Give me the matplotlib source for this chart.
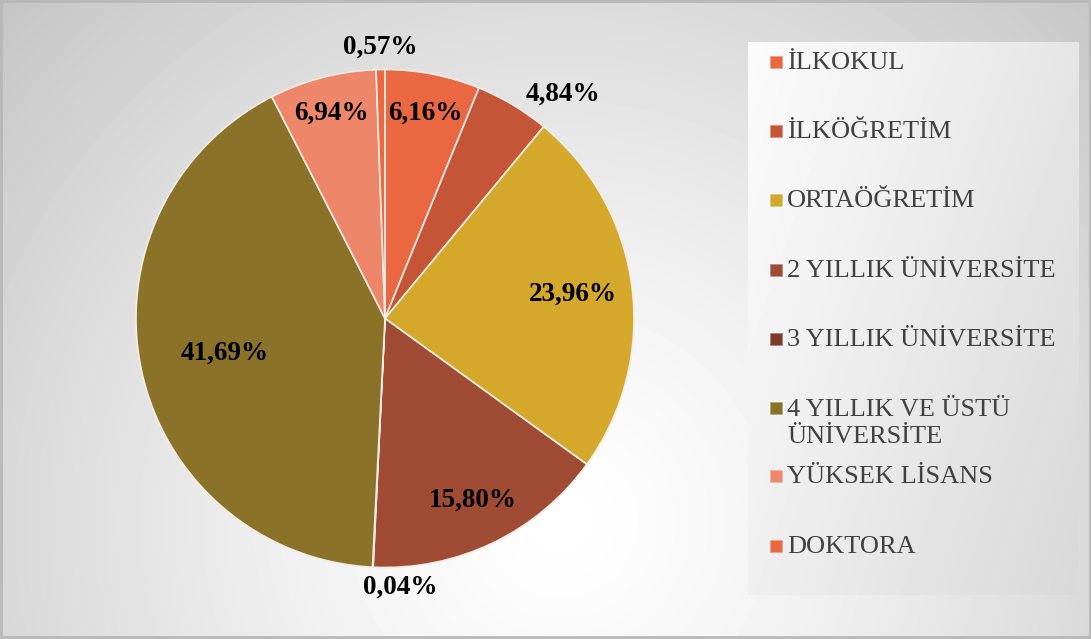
import numpy as np
import matplotlib
matplotlib.use("Agg")
import matplotlib.pyplot as plt
from matplotlib.patches import Rectangle

plt.rcParams['font.family'] = ['Liberation Serif', 'DejaVu Serif']

categories = ['İLKOKUL', 'İLKÖĞRETİM', 'ORTAÖĞRETİM', '2 YILLIK ÜNİVERSİTE',
              '3 YILLIK ÜNİVERSİTE', '4 YILLIK VE ÜSTÜ\nÜNİVERSİTE',
              'YÜKSEK LİSANS', 'DOKTORA']
shares = [6.16, 4.84, 23.96, 15.80, 0.04, 41.69, 6.94, 0.57]
colors = ['#E96841', '#C55537', '#D4A82A', '#A04B33',
          '#7F3B2A', '#8A7229', '#EE866A', '#EB6841']
# label placement: radius (in pie radii) and angle shift in degrees
label_r = [0.84, 1.15, 0.76, 0.81, 1.08, 0.66, 0.85, 1.09]
label_dt = [0, -7.6, 0, 0, 6.0, 0, 0, 0]

W, H = 1091, 639
fig = plt.figure(figsize=(W / 100, H / 100), dpi=100)

# background radial gradient
bg = fig.add_axes([0, 0, 1, 1])
yy, xx = np.mgrid[0:H, 0:W]
d = np.hypot(xx - 560, yy - 520)
val = 1 - 0.23 * (d / d.max()) ** 1.3
bg.imshow(val, cmap='gray', vmin=0, vmax=1, extent=[0, W, H, 0], aspect='auto')
bg.set_xlim(0, W)
bg.set_ylim(H, 0)
bg.axis('off')
bg.add_patch(Rectangle((1, 1), W - 2, H - 3, fill=False, ec='#b8b8b8', lw=2))

# legend box with its own gradient
lx0, ly0, lx1, ly1 = 748, 42, 1079, 595
ly, lxg = np.mgrid[0:ly1 - ly0, 0:lx1 - lx0]
lval = 0.985 - 0.11 * (lxg / (lx1 - lx0)) * 0.8 - 0.05 * (ly / (ly1 - ly0))
bg.imshow(lval, cmap='gray', vmin=0, vmax=1, extent=[lx0, lx1, ly1, ly0],
          aspect='auto', zorder=2)

legend_y = [62, 131, 200, 270, 339, 422.5, 476, 546]
for lab, col, y in zip(categories, colors, legend_y):
    top_y = y if '\n' not in lab else 408
    bg.add_patch(Rectangle((769.5, top_y - 6.5), 13, 13, fc=col,
                           ec=(1, 1, 1, 0.45), lw=1.2, zorder=3))
    bg.text(787, y + 1, lab, fontsize=19, color='#404040', va='center',
            ha='left', zorder=4, linespacing=1.3)

# pie
cx, cy, R = 385, 318.5, 249
ax = fig.add_axes([(cx - R) / W, (H - cy - R) / H, 2 * R / W, 2 * R / H])
wedges, _ = ax.pie(shares, colors=colors, startangle=90, counterclock=False,
                   wedgeprops=dict(edgecolor='#f4ece6', linewidth=1.2))
for w, v, r, dt in zip(wedges, shares, label_r, label_dt):
    ang = np.deg2rad((w.theta1 + w.theta2) / 2 + dt)
    ax.text(r * np.cos(ang), r * np.sin(ang), f'{v:.2f}%'.replace('.', ','),
            ha='center', va='center', fontsize=19.5, fontweight='bold',
            color='black')
ax.set_xlim(-1, 1)
ax.set_ylim(-1, 1)
ax.axis('off')

fig.savefig('out.png', dpi=100)
